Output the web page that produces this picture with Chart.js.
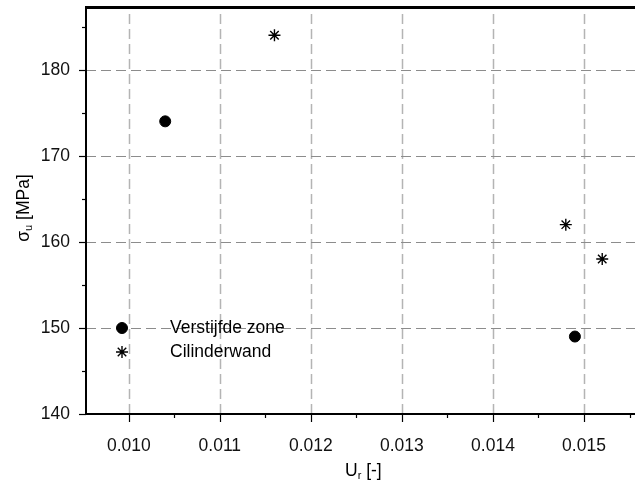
<!DOCTYPE html>
<html>
<head>
<meta charset="utf-8">
<script src="https://cdn.jsdelivr.net/npm/chart.js@4.4.1/dist/chart.umd.min.js"></script>
<style>
html,body{margin:0;padding:0;background:#fff;}
canvas{display:block;}
</style>
</head>
<body>
<canvas id="c" width="635" height="481"></canvas>
<script>
// ---- data ----
const verstijfdeX = [0.0104, 0.0149];
const verstijfdeY = [174, 149];
const cilinderX = [0.0116, 0.0148, 0.0152];
const cilinderY = [184, 162, 158];
const seriesLabels = ['Verstijfde zone', 'Cilinderwand'];
const xTickValues = [0.010, 0.011, 0.012, 0.013, 0.014, 0.015];
const yTickValues = [140, 150, 160, 170, 180];
const xRange = [0.00953, 0.01556];
const yRange = [140, 187.4];

const FONT = "'Liberation Sans', Arial, sans-serif";
const FS = 17.5;

function pts(xs, ys){ return xs.map((x,i)=>({x:x, y:ys[i]})); }

const decor = {
  id: 'decor',
  beforeDatasetsDraw(chart){
    const {ctx, chartArea:a, scales:{x, y}} = chart;
    ctx.save();
    // vertical grid
    ctx.strokeStyle = '#b4b4b4';
    ctx.lineWidth = 1.5;
    ctx.setLineDash([10,5]);
    xTickValues.forEach(v=>{
      const px = Math.round(x.getPixelForValue(v)) + 0.5;
      ctx.beginPath(); ctx.moveTo(px, a.bottom); ctx.lineTo(px, a.top); ctx.stroke();
    });
    // horizontal grid
    ctx.strokeStyle = '#8c8c8c';
    ctx.lineWidth = 1;
    ctx.setLineDash([10,5]);
    yTickValues.forEach(v=>{
      if (v === yRange[0]) return;
      const py = Math.round(y.getPixelForValue(v)) + 0.5;
      ctx.beginPath(); ctx.moveTo(a.left, py); ctx.lineTo(a.right, py); ctx.stroke();
    });
    ctx.setLineDash([]);
    // borders
    ctx.strokeStyle = '#000';
    ctx.lineWidth = 3;
    ctx.beginPath(); ctx.moveTo(a.left-1, a.top+1.5); ctx.lineTo(a.right, a.top+1.5); ctx.stroke();
    ctx.lineWidth = 2;
    ctx.beginPath(); ctx.moveTo(a.left, a.top); ctx.lineTo(a.left, a.bottom+1); ctx.stroke();
    ctx.beginPath(); ctx.moveTo(a.left-1, a.bottom); ctx.lineTo(a.right, a.bottom); ctx.stroke();
    // tick marks
    ctx.lineWidth = 1.2;
    yTickValues.forEach(v=>{
      const py = Math.round(y.getPixelForValue(v)) + 0.5;
      ctx.beginPath(); ctx.moveTo(a.left-7, py); ctx.lineTo(a.left, py); ctx.stroke();
      const m = v + 5;
      if (m <= yRange[1]) {
        const pm = Math.round(y.getPixelForValue(m)) + 0.5;
        ctx.beginPath(); ctx.moveTo(a.left-4, pm); ctx.lineTo(a.left, pm); ctx.stroke();
      }
    });
    const xMinor = xTickValues.map(v=>v-0.0005).concat([xTickValues[xTickValues.length-1]+0.0005]);
    xTickValues.forEach(v=>{
      const px = Math.round(x.getPixelForValue(v)) + 0.5;
      ctx.beginPath(); ctx.moveTo(px, a.bottom); ctx.lineTo(px, a.bottom+8); ctx.stroke();
    });
    xMinor.forEach(v=>{
      if (v < xRange[0] || v > xRange[1]) return;
      const px = Math.round(x.getPixelForValue(v)) + 0.5;
      ctx.beginPath(); ctx.moveTo(px, a.bottom); ctx.lineTo(px, a.bottom+4); ctx.stroke();
    });
    ctx.restore();
  },
  afterDraw(chart){
    const {ctx, chartArea:a} = chart;
    ctx.save();
    ctx.fillStyle = '#000';
    // x title: U_r [-]
    ctx.textBaseline = 'alphabetic';
    const main1 = 'U', sub1 = 'r', rest1 = ' [-]';
    ctx.font = FS + 'px ' + FONT; const w1 = ctx.measureText(main1).width;
    ctx.font = '11px ' + FONT; const ws1 = ctx.measureText(sub1).width;
    let tx = 345;
    const ty = 476;
    ctx.font = FS + 'px ' + FONT; ctx.fillText(main1, tx, ty); tx += w1;
    ctx.font = '11px ' + FONT; ctx.fillText(sub1, tx, ty+3); tx += ws1;
    ctx.font = FS + 'px ' + FONT; ctx.fillText(rest1, tx, ty);
    // y title: sigma_u [MPa]
    ctx.translate(29, 208);
    ctx.rotate(-Math.PI/2);
    const main2 = 'σ', sub2 = 'u', rest2 = ' [MPa]';
    ctx.font = FS + 'px ' + FONT; const w2 = ctx.measureText(main2).width;
    ctx.font = '11px ' + FONT; const ws2 = ctx.measureText(sub2).width;
    ctx.font = FS + 'px ' + FONT; const wr2 = ctx.measureText(rest2).width;
    let sx = -(w2+ws2+wr2)/2;
    ctx.font = FS + 'px ' + FONT; ctx.fillText(main2, sx, 0); sx += w2;
    ctx.font = '11px ' + FONT; ctx.fillText(sub2, sx, 3); sx += ws2;
    ctx.font = FS + 'px ' + FONT; ctx.fillText(rest2, sx, 0);
    ctx.restore();

    // legend
    ctx.save();
    const items = chart.data.datasets;
    const lx = 122, ly0 = 328, dy = 24;
    items.forEach((ds, i)=>{
      const yy = ly0 + i*dy;
      ctx.fillStyle = ds.backgroundColor; ctx.strokeStyle = ds.borderColor; ctx.lineWidth = ds.borderWidth;
      Chart.helpers.drawPoint(ctx, {
        pointStyle: ds.pointStyle, radius: ds.pointRadius, borderWidth: ds.borderWidth, rotation: 0
      }, lx, yy);
      ctx.fillStyle = '#000';
      ctx.font = FS + 'px ' + FONT;
      ctx.textBaseline = 'middle';
      ctx.fillText(ds.label, 170, yy);
    });
    ctx.restore();
  }
};

new Chart(document.getElementById('c'), {
  type: 'scatter',
  data: {
    datasets: [
      { label: seriesLabels[0], data: pts(verstijfdeX, verstijfdeY), pointStyle: 'circle', pointRadius: 5.5,
        pointHoverRadius: 5.5, backgroundColor: '#000', borderColor: '#000', borderWidth: 1 },
      { label: seriesLabels[1], data: pts(cilinderX, cilinderY), pointStyle: 'star', pointRadius: 6,
        pointHoverRadius: 6, backgroundColor: '#000', borderColor: '#000', borderWidth: 1.4 }
    ]
  },
  options: {
    responsive: false,
    animation: false,
    devicePixelRatio: 1,
    layout: { autoPadding: false, padding: { top: 6, left: 0, right: 0, bottom: 0 } },
    plugins: { legend: { display: false }, tooltip: { enabled: false } },
    scales: {
      x: {
        type: 'linear', min: xRange[0], max: xRange[1],
        afterFit(s){ s.height = 67; s.paddingLeft = 0; s.paddingRight = 0; s.paddingTop = 0; s.paddingBottom = 0; },
        afterBuildTicks(s){ s.ticks = xTickValues.map(v=>({value:v})); },
        grid: { display: false }, border: { display: false },
        ticks: { padding: 14, color: '#111', font: { family: FONT, size: FS }, maxRotation: 0,
          callback: v => v.toFixed(3) }
      },
      y: {
        type: 'linear', min: yRange[0], max: yRange[1],
        afterFit(s){ s.width = 86; s.paddingLeft = 0; s.paddingRight = 0; s.paddingTop = 0; s.paddingBottom = 0; },
        afterBuildTicks(s){ s.ticks = yTickValues.map(v=>({value:v})); },
        grid: { display: false }, border: { display: false },
        ticks: { padding: 8, color: '#111', font: { family: FONT, size: FS },
          callback: v => String(v) }
      }
    }
  },
  plugins: [decor]
});
</script>
</body>
</html>
